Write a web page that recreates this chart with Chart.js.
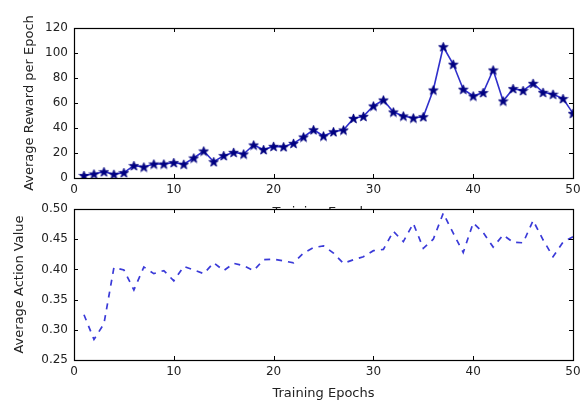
<!DOCTYPE html>
<html>
<head>
<meta charset="utf-8">
<script src="https://cdn.jsdelivr.net/npm/chart.js@4/dist/chart.umd.min.js"></script>
<style>
  body { margin: 0; background: #fff; }
  #wrap { position: relative; width: 583px; height: 405px; }
  canvas { position: absolute; left: 0; top: 0; }
</style>
</head>
<body>
<div id="wrap">
  <canvas id="rewardChart" width="583" height="220"></canvas>
  <canvas id="valueChart" width="583" height="405"></canvas>
</div>
<script>
const epochs = [1,2,3,4,5,6,7,8,9,10,11,12,13,14,15,16,17,18,19,20,21,22,23,24,25,
  26,27,28,29,30,31,32,33,34,35,36,37,38,39,40,41,42,43,44,45,46,47,48,49,50];

const avgReward = [2, 3.2, 5, 3, 4.3, 9.9, 8.8, 11.2, 11.2, 12.3, 11, 16, 21.6, 13, 17.9,
  20.5, 19.2, 26.4, 22.7, 25.3, 25, 27.7, 32.8, 38.6, 33.6, 37, 38.4, 47.7, 49.3, 57.6,
  62.4, 52.8, 49.6, 48, 49, 70.4, 105, 91, 71, 65.6, 68.3, 86.4, 61.6, 71.5, 69.9,
  75.7, 68.5, 67, 63.5, 51.7];

const avgActionValue = [0.325, 0.284, 0.31, 0.403, 0.399, 0.366, 0.404, 0.393, 0.398, 0.381,
  0.405, 0.399, 0.393, 0.411, 0.398, 0.410, 0.406, 0.398, 0.416, 0.417, 0.414, 0.411,
  0.427, 0.436, 0.439, 0.427, 0.410, 0.416, 0.421, 0.431, 0.433, 0.463, 0.446, 0.476,
  0.435, 0.450, 0.493, 0.460, 0.428, 0.477, 0.461, 0.437, 0.457, 0.445, 0.444, 0.481,
  0.449, 0.421, 0.445, 0.454];

const xTicks = [0, 10, 20, 30, 40, 50];
const rewardTicks = [0, 20, 40, 60, 80, 100, 120];
const valueTicks = [0.25, 0.30, 0.35, 0.40, 0.45, 0.50];

const FONT = 'DejaVu Sans';

// filled five point star like matplotlib's '*' marker
function makeStar(size, color) {
  const c = document.createElement('canvas');
  c.width = size; c.height = size;
  const g = c.getContext('2d');
  const cx = size / 2, cy = size / 2 + 0.5, R = size / 2 - 0.5, r = R * 0.42;
  g.beginPath();
  for (let i = 0; i < 10; i++) {
    const rad = i % 2 === 0 ? R : r;
    const a = -Math.PI / 2 + i * Math.PI / 5;
    const px = cx + rad * Math.cos(a), py = cy + rad * Math.sin(a);
    if (i === 0) g.moveTo(px, py); else g.lineTo(px, py);
  }
  g.closePath();
  g.fillStyle = color;
  g.fill();
  g.strokeStyle = color;
  g.lineWidth = 0.8;
  g.stroke();
  return c;
}

// white axes background, black frame, inward ticks on all four sides
const framePlugin = {
  id: 'frame',
  beforeDraw(chart) {
    const a = chart.chartArea, ctx = chart.ctx;
    ctx.save();
    ctx.fillStyle = '#fff';
    ctx.fillRect(a.left, a.top, a.right - a.left, a.bottom - a.top);
    ctx.restore();
  },
  afterDatasetsDraw(chart) {
    const a = chart.chartArea, ctx = chart.ctx;
    const xs = chart.scales.x, ys = chart.scales.y;
    ctx.save();
    ctx.strokeStyle = '#000';
    ctx.lineWidth = 1;
    ctx.beginPath();
    xs.ticks.forEach(t => {
      const px = Math.round(xs.getPixelForValue(t.value)) + 0.5;
      ctx.moveTo(px, a.bottom); ctx.lineTo(px, a.bottom - 4);
      ctx.moveTo(px, a.top); ctx.lineTo(px, a.top + 4);
    });
    ys.ticks.forEach(t => {
      const py = Math.round(ys.getPixelForValue(t.value)) + 0.5;
      ctx.moveTo(a.left, py); ctx.lineTo(a.left + 4, py);
      ctx.moveTo(a.right, py); ctx.lineTo(a.right - 4, py);
    });
    ctx.stroke();
    ctx.lineWidth = 1.2;
    ctx.strokeRect(Math.round(a.left) + 0.5, Math.round(a.top) + 0.5,
      Math.round(a.right - a.left), Math.round(a.bottom - a.top));
    ctx.restore();
  }
};

function axes(yTicks, yMin, yMax, yTitle, yTitlePad, xHeight, xTitlePad, fmt) {
  return {
    x: {
      type: 'linear', min: 0, max: 50,
      afterBuildTicks: s => { s.ticks = xTicks.map(v => ({ value: v })); },
      afterFit: s => { s.height = xHeight; s.paddingLeft = 0; s.paddingRight = 0; },
      grid: { display: false, drawTicks: false },
      border: { display: false },
      ticks: { padding: 5, color: '#222', font: { family: FONT, size: 12 } },
      title: { display: true, text: 'Training Epochs', color: '#222',
        padding: { top: 0, bottom: xTitlePad }, font: { family: FONT, size: 13 } }
    },
    y: {
      min: yMin, max: yMax,
      afterBuildTicks: s => { s.ticks = yTicks.map(v => ({ value: v })); },
      afterFit: s => { s.width = 74; s.paddingTop = 0; s.paddingBottom = 0; },
      grid: { display: false, drawTicks: false },
      border: { display: false },
      ticks: { padding: 6, color: '#222', font: { family: FONT, size: 12 }, callback: fmt },
      title: { display: true, text: yTitle, color: '#222',
        padding: { top: yTitlePad, bottom: 0 }, font: { family: FONT, size: 13 } }
    }
  };
}

new Chart(document.getElementById('rewardChart'), {
  type: 'line',
  data: {
    datasets: [{
      data: epochs.map((e, i) => ({ x: e, y: avgReward[i] })),
      borderColor: '#3030cc',
      borderWidth: 1.6,
      pointStyle: makeStar(11, '#000080'),
      pointRadius: 5.5,
      tension: 0,
      fill: false
    }]
  },
  options: {
    responsive: false,
    devicePixelRatio: 1,
    animation: false,
    layout: { padding: { top: 28, right: 10, left: 0, bottom: 0 } },
    plugins: { legend: { display: false }, tooltip: { enabled: false } },
    scales: axes(rewardTicks, 0, 120, 'Average Reward per Epoch', 22, 42, 0, v => String(v))
  },
  plugins: [framePlugin]
});

new Chart(document.getElementById('valueChart'), {
  type: 'line',
  data: {
    datasets: [{
      data: epochs.map((e, i) => ({ x: e, y: avgActionValue[i] })),
      borderColor: '#3a3ad8',
      borderWidth: 1.7,
      borderDash: [6, 6],
      pointRadius: 0,
      tension: 0,
      fill: false
    }]
  },
  options: {
    responsive: false,
    devicePixelRatio: 1,
    animation: false,
    layout: { padding: { top: 209, right: 10, left: 0, bottom: 0 } },
    plugins: { legend: { display: false }, tooltip: { enabled: false } },
    scales: axes(valueTicks, 0.25, 0.50, 'Average Action Value', 12, 45, 4, v => v.toFixed(2))
  },
  plugins: [framePlugin]
});
</script>
</body>
</html>
